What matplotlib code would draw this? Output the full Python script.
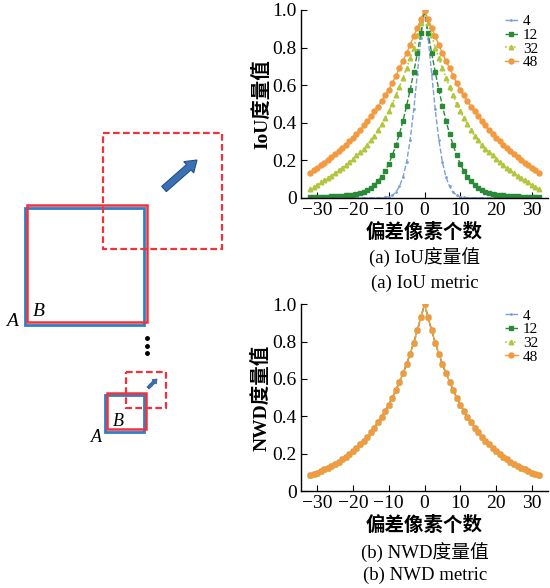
import numpy as np
import matplotlib
matplotlib.use("Agg")
import matplotlib.pyplot as plt
from matplotlib.patches import Rectangle, FancyArrow

plt.rcParams['font.family'] = ['Liberation Serif', 'Noto Sans CJK SC']
plt.rcParams['axes.unicode_minus'] = True

# offsets in pixels (0..32), curves are symmetric around 0
offsets_half = list(range(0, 33))
box_sizes = ['4', '12', '32', '48']

iou_4 = [1.0, 0.85, 0.66, 0.47, 0.31, 0.19, 0.11, 0.06, 0.03, 0.013, 0.005, 0.002,
         0, 0, 0, 0, 0, 0, 0, 0, 0, 0, 0, 0, 0, 0, 0, 0, 0, 0, 0, 0, 0]
iou_12 = [1.0, 0.88, 0.77, 0.67, 0.575, 0.49, 0.41, 0.34, 0.28, 0.225, 0.18, 0.142,
          0.112, 0.088, 0.069, 0.054, 0.042, 0.033, 0.026, 0.021, 0.017, 0.014,
          0.012, 0.010, 0.009, 0.008, 0.007, 0.006, 0.006, 0.005, 0.005, 0.004, 0.004]
iou_32 = [1.0, 0.93, 0.865, 0.80, 0.745, 0.69, 0.64, 0.59, 0.545, 0.50, 0.46, 0.425,
          0.39, 0.36, 0.33, 0.305, 0.28, 0.26, 0.245, 0.225, 0.207, 0.19, 0.174,
          0.159, 0.145, 0.131, 0.118, 0.105, 0.093, 0.081, 0.069, 0.057, 0.045]
iou_48 = [1.0, 0.95, 0.905, 0.86, 0.815, 0.77, 0.73, 0.69, 0.65, 0.61, 0.575, 0.545,
          0.515, 0.485, 0.46, 0.435, 0.41, 0.385, 0.36, 0.34, 0.32, 0.30, 0.282,
          0.265, 0.248, 0.232, 0.217, 0.203, 0.185, 0.172, 0.158, 0.145, 0.133]
nwd_all = [1.0, 0.93, 0.86, 0.795, 0.735, 0.68, 0.63, 0.585, 0.54, 0.50, 0.46, 0.43,
           0.395, 0.367, 0.34, 0.315, 0.29, 0.27, 0.25, 0.232, 0.215, 0.198, 0.184,
           0.17, 0.158, 0.146, 0.135, 0.125, 0.116, 0.107, 0.099, 0.092, 0.085]

xticks = [-30, -20, -10, 0, 10, 20, 30]
yticks = [0, 0.2, 0.4, 0.6, 0.8, 1.0]
ytick_labels = ['0', '0.2', '0.4', '0.6', '0.8', '1.0']


def full(half):
    return half[:0:-1] + half


offsets = [-d for d in offsets_half[:0:-1]] + offsets_half

styles = [
    dict(color='#7ba0d6', ls='--', marker='.', ms=2.0, lw=1.0),
    dict(color='#2a8a38', ls='--', marker='s', ms=3.0, lw=1.0),
    dict(color='#b3c53c', ls=':', marker='^', ms=3.3, lw=1.2),
    dict(color='#f29a40', ls='-', marker='o', ms=3.6, lw=1.0),
]

W, H = 550, 588
fig = plt.figure(figsize=(5.5, 5.88), dpi=100)


def px_axes(x0, y0, x1, y1):
    return fig.add_axes([x0 / W, 1 - y1 / H, (x1 - x0) / W, (y1 - y0) / H])


# ---- left illustration ----
dax = fig.add_axes([0, 0, 1, 1])
dax.set_xlim(0, W)
dax.set_ylim(H, 0)
dax.axis('off')

blue_c = '#2f7fc4'
red_c = '#f2323a'
# (x0, y0, x1, y1) in pixels
solid_blue = [(25, 208, 144, 325), (105, 395, 144, 432)]
solid_red = [(27, 205, 147, 322), (107, 393, 146, 429)]
dashed_red = [(103, 133, 222, 249), (126, 372, 166, 408)]
for x0, y0, x1, y1 in solid_blue:
    dax.add_patch(Rectangle((x0, y0), x1 - x0, y1 - y0, fill=False, ec=blue_c, lw=2.0))
for x0, y0, x1, y1 in solid_red:
    dax.add_patch(Rectangle((x0, y0), x1 - x0, y1 - y0, fill=False, ec=red_c, lw=1.8))
for x0, y0, x1, y1 in dashed_red:
    dax.add_patch(Rectangle((x0, y0), x1 - x0, y1 - y0, fill=False, ec=red_c, lw=1.6,
                            ls=(0, (3, 1.5))))

dax.add_patch(FancyArrow(164, 189, 33, -29, width=7, head_width=15, head_length=11,
                         length_includes_head=True, fc='#3b70b4', ec='#24508a', lw=0.8))
dax.add_patch(FancyArrow(148, 388, 9, -9, width=3, head_width=6, head_length=4,
                         length_includes_head=True, fc='#3b70b4', ec='#24508a', lw=0.5))

for x, y, s, fs in [(12, 322, 'A', 14), (39, 312, 'B', 14), (96, 438, 'A', 13), (118, 422, 'B', 13)]:
    dax.text(x, y, s, fontsize=fs, style='italic', ha='center', va='center',
             family='Liberation Serif')
for y in [338, 346, 353]:
    dax.plot([147], [y], 'o', color='black', ms=2.5)


# ---- plots ----
def make_plot(ax, series, ylabel, caption1, caption2, cap_y):
    for vals, lab, st in zip(series, box_sizes, styles):
        ax.plot(offsets, full(vals), label=lab, **st)
    ax.set_xlim(-34.5, 34.5)
    ax.set_ylim(0, 1.0)
    ax.set_xticks(xticks)
    ax.set_yticks(yticks)
    ax.set_yticklabels(ytick_labels)
    ax.tick_params(direction='in', labelsize=14, length=4, width=0.8, pad=3)
    for s in ['top', 'right']:
        ax.spines[s].set_visible(False)
    for s in ['left', 'bottom']:
        ax.spines[s].set_linewidth(1.0)
    ax.set_xlabel('偏差像素个数', fontsize=14, fontweight='bold', labelpad=3)
    ax.set_ylabel(ylabel, fontsize=14, fontweight='bold', labelpad=1)
    ax.legend(loc='upper right', bbox_to_anchor=(0.96, 0.975), frameon=False,
              fontsize=11, handlelength=0.9, handletextpad=0.3, labelspacing=0.0,
              borderpad=0, borderaxespad=0, numpoints=1)
    fig.text(425 / W, 1 - cap_y[0] / H, caption1, fontsize=13.5, ha='center', va='center')
    fig.text(425 / W, 1 - cap_y[1] / H, caption2, fontsize=13.5, ha='center', va='center')


ax1 = px_axes(301, 10, 548, 197.7)
make_plot(ax1, [iou_4, iou_12, iou_32, iou_48], 'IoU度量值',
          '(a) IoU度量值', '(a) IoU metric', (258, 283))

ax2 = px_axes(301, 304.3, 548, 491)
make_plot(ax2, [nwd_all, nwd_all, nwd_all, nwd_all], 'NWD度量值',
          '(b) NWD度量值', '(b) NWD metric', (553, 575))

fig.savefig('out.png', dpi=100)
